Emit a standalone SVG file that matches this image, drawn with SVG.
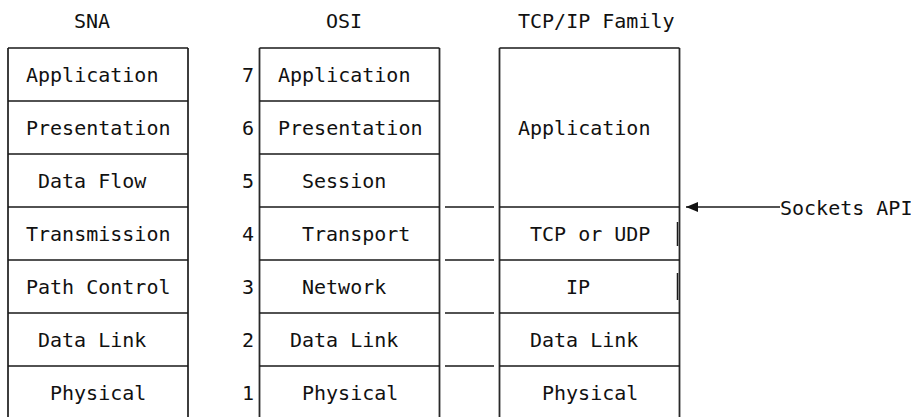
<svg xmlns="http://www.w3.org/2000/svg" width="911" height="417" viewBox="0 0 911 417">
<style>
text{font-family:"DejaVu Sans Mono","Liberation Mono",monospace;font-size:20px;fill:#111}
.b{stroke:#2a2a2a;stroke-width:1.8;fill:none}
.h{stroke:#1a1a1a;stroke-width:1.5;fill:none}
</style>
<defs>
<marker id="ah" markerWidth="12" markerHeight="10" refX="12" refY="5" orient="auto" markerUnits="userSpaceOnUse">
<path d="M0,0 L12,5 L0,10 Z" fill="#111"/>
</marker>
</defs>
<rect width="911" height="417" fill="#fff"/>
<g id="titles">
<text x="74" y="28">SNA</text>
<text x="326" y="28">OSI</text>
<text x="518" y="28">TCP/IP Family</text>
</g>
<g id="sna">
<path class="b" d="M8,48V417M188,48V417"/>
<path class="h" d="M8,48H188M8,101H188M8,154H188M8,207H188M8,260H188M8,313H188M8,366H188"/>
<text x="26" y="81.5">Application</text>
<text x="26" y="134.5">Presentation</text>
<text x="38" y="187.5">Data Flow</text>
<text x="26" y="240.5">Transmission</text>
<text x="26" y="293.5">Path Control</text>
<text x="38" y="346.5">Data Link</text>
<text x="50" y="399.5">Physical</text>
</g>
<g id="osi">
<path class="b" d="M259.5,48V417M439.5,48V417"/>
<path class="h" d="M259.5,48H439.5M259.5,101H439.5M259.5,154H439.5M259.5,207H439.5M259.5,260H439.5M259.5,313H439.5M259.5,366H439.5"/>
<text x="242" y="81.5">7</text>
<text x="242" y="134.5">6</text>
<text x="242" y="187.5">5</text>
<text x="242" y="240.5">4</text>
<text x="242" y="293.5">3</text>
<text x="242" y="346.5">2</text>
<text x="242" y="399.5">1</text>
<text x="278" y="81.5">Application</text>
<text x="278" y="134.5">Presentation</text>
<text x="302" y="187.5">Session</text>
<text x="302" y="240.5">Transport</text>
<text x="302" y="293.5">Network</text>
<text x="290" y="346.5">Data Link</text>
<text x="302" y="399.5">Physical</text>
</g>
<g id="tcpip">
<path class="b" d="M499.5,48V417M679.5,48V417"/>
<path class="h" d="M499.5,48H679.5M499.5,207H679.5M499.5,260H679.5M499.5,313H679.5M499.5,366H679.5"/>
<path class="h" d="M677.5,222V246M677.5,273V300"/>
<text x="518" y="134.5">Application</text>
<text x="530" y="240.5">TCP or UDP</text>
<text x="566" y="293.5">IP</text>
<text x="530" y="346.5">Data Link</text>
<text x="542" y="399.5">Physical</text>
</g>
<g id="connectors">
<path class="h" d="M445,207H494M445,260H494M445,313H494M445,366H494"/>
<path class="h" d="M780,207H686" marker-end="url(#ah)"/>
</g>
<g id="sockets">
<text x="780" y="215">Sockets API</text>
</g>
</svg>
